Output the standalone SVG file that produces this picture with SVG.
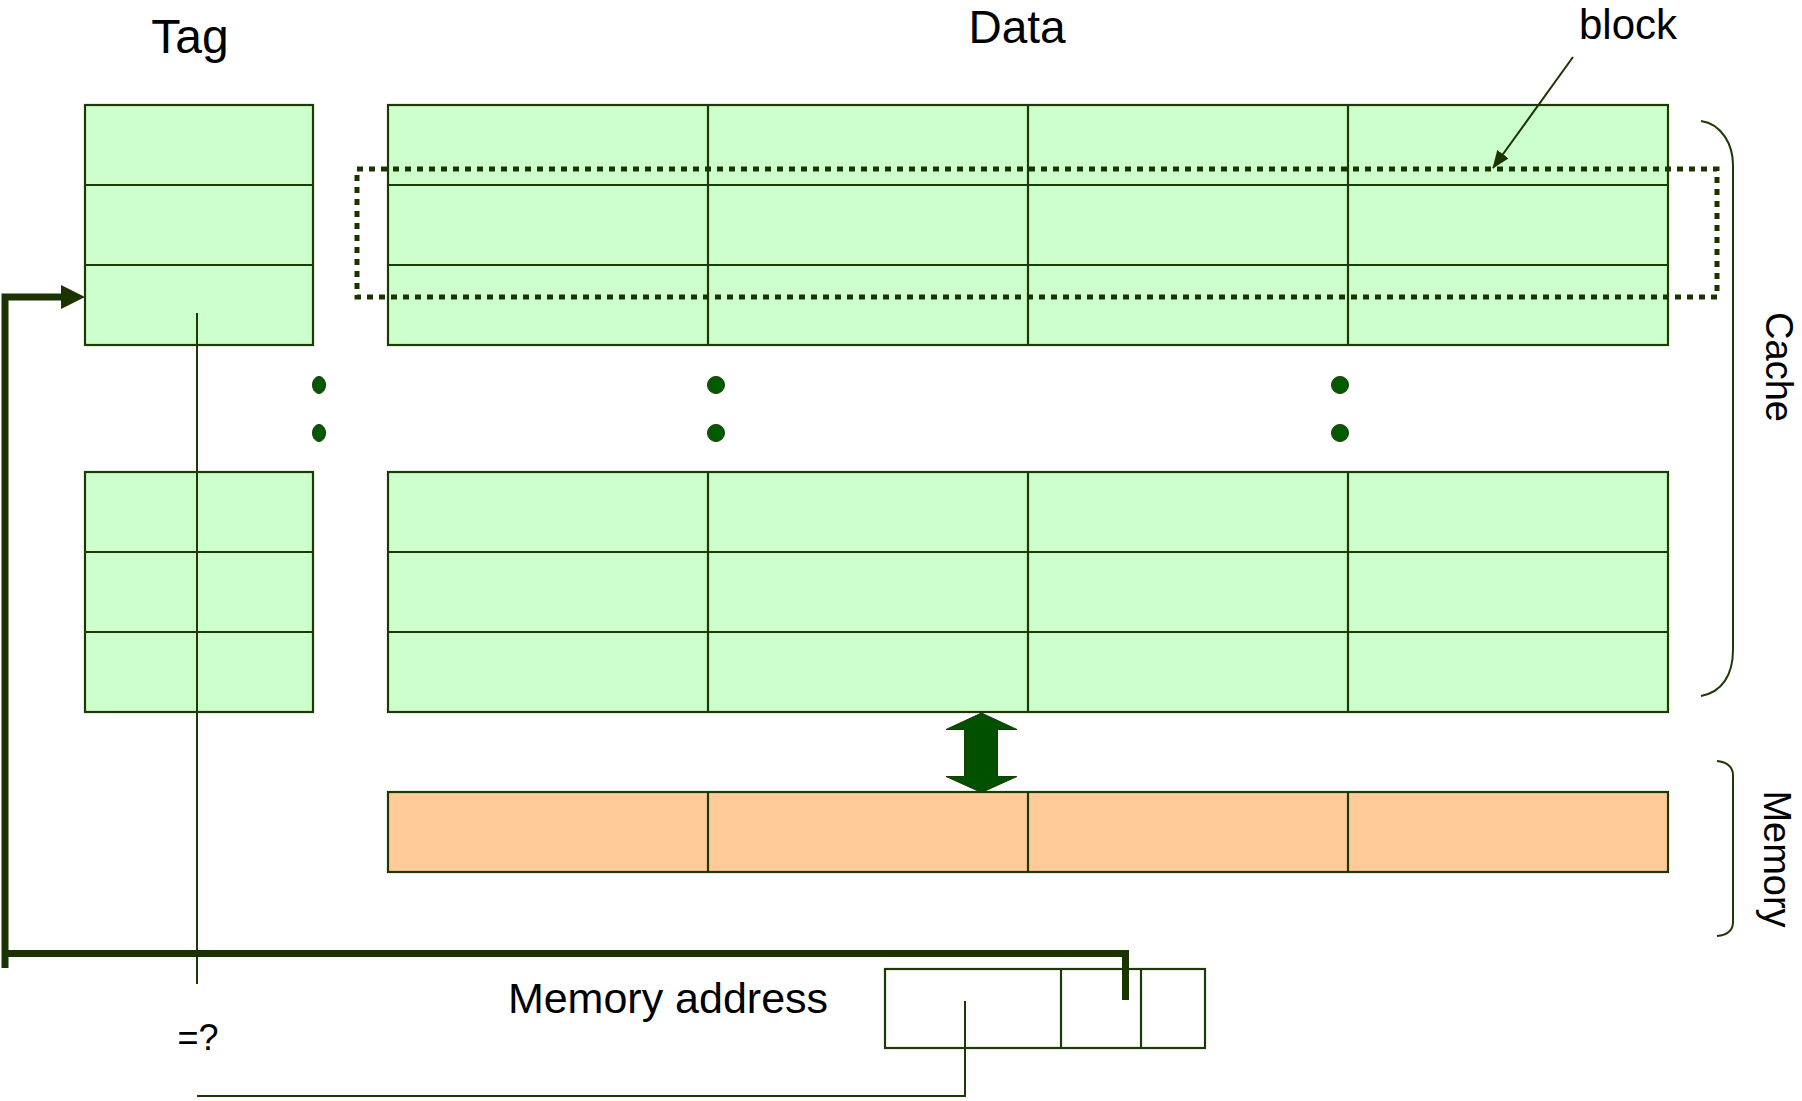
<svg xmlns="http://www.w3.org/2000/svg" width="1802" height="1101" viewBox="0 0 1802 1101">
<style>
.g{fill:#ccffcc;stroke:#1d3a04;stroke-width:2.2}
.o{fill:#ffcc99;stroke:#1d3a04;stroke-width:2.2}
.ln{stroke:#1d3a04;stroke-width:2.2;fill:none}
.thick{stroke:#1a3300;stroke-width:7;fill:none}
.thin{stroke:#1d3a04;stroke-width:2;fill:none}
.dash{stroke:#1a3300;stroke-width:5;fill:none;stroke-dasharray:6 6}
.dot{fill:#005a00;stroke:#1d3a04;stroke-width:1}
.t{font-family:"Comic Sans MS","Liberation Sans",sans-serif;fill:#000}
</style>
<defs>
<marker id="ah" markerUnits="userSpaceOnUse" markerWidth="18" markerHeight="14" refX="17" refY="7" orient="auto">
<path d="M0,0 L18,7 L0,14 Z" fill="#1a3300"/>
</marker>
</defs>
<rect width="1802" height="1101" fill="#fff"/>

<g id="label-tag"><text class="t" x="190" y="53" font-size="48" text-anchor="middle">Tag</text></g>
<g id="label-data"><text class="t" x="1017" y="43" font-size="46" text-anchor="middle">Data</text></g>
<g id="label-block"><text class="t" x="1628" y="39" font-size="42" text-anchor="middle">block</text></g>
<g id="label-cache"><text class="t" font-size="38" text-anchor="middle" transform="translate(1766,367) rotate(90)">Cache</text></g>
<g id="label-memory"><text class="t" font-size="38" text-anchor="middle" transform="translate(1764,859) rotate(90)">Memory</text></g>
<g id="label-address"><text class="t" x="668" y="1013" font-size="43" text-anchor="middle">Memory address</text></g>
<g id="label-eq"><text class="t" x="198" y="1050" font-size="36" text-anchor="middle">=?</text></g>

<g id="tag-top">
<rect class="g" x="85" y="105" width="228" height="240"/>
<path class="ln" d="M85,185H313M85,265H313"/>
</g>
<g id="tag-bottom">
<rect class="g" x="85" y="472" width="228" height="240"/>
<path class="ln" d="M85,552H313M85,632H313"/>
</g>
<g id="data-top">
<rect class="g" x="388" y="105" width="1280" height="240"/>
<path class="ln" d="M388,185H1668M388,265H1668M708,105V345M1028,105V345M1348,105V345"/>
</g>
<g id="data-bottom">
<rect class="g" x="388" y="472" width="1280" height="240"/>
<path class="ln" d="M388,552H1668M388,632H1668M708,472V712M1028,472V712M1348,472V712"/>
</g>
<g id="memory">
<rect class="o" x="388" y="792" width="1280" height="80"/>
<path class="ln" d="M708,792V872M1028,792V872M1348,792V872"/>
</g>
<g id="address">
<rect x="885" y="969" width="320" height="79" fill="none" stroke="#1d3a04" stroke-width="2.2"/>
<path class="ln" d="M1061,969V1048M1141,969V1048"/>
</g>
<g id="block-outline">
<rect class="dash" x="357" y="169" width="1360" height="128"/>
</g>
<g id="ellipsis">
<ellipse class="dot" cx="319" cy="385" rx="6.5" ry="8.5"/>
<ellipse class="dot" cx="319" cy="433" rx="6.5" ry="8.5"/>
<circle class="dot" cx="716" cy="385" r="8.5"/>
<circle class="dot" cx="716" cy="433" r="8.5"/>
<circle class="dot" cx="1340" cy="385" r="8.5"/>
<circle class="dot" cx="1340" cy="433" r="8.5"/>
</g>
<g id="braces">
<path class="thin" d="M1701,121 C1722,124 1733,145 1733,165 V650 C1733,675 1722,692 1701,696"/>
<path class="thin" d="M1717,761 C1728,762 1733,768 1733,775 V922 C1733,930 1728,935 1717,936"/>
</g>

<g id="connectors">
<path class="thin" d="M197,313V984"/>
<path class="thin" d="M965,1001V1096H197"/>
<path class="thick" d="M5,968V297H62" stroke-linejoin="miter"/>
<polygon points="61,285 85,297 61,309" fill="#1a3300"/>
<path class="thick" d="M2,953.5H1125.5V1000" stroke-linejoin="miter"/>
<line x1="1573" y1="57" x2="1493" y2="168" stroke="#1a3300" stroke-width="2" marker-end="url(#ah)"/>
<polygon points="981.5,713 1017,729.5 997.5,729.5 997.5,776.5 1017,776.5 981.5,792.5 946,776.5 964.5,776.5 964.5,729.5 946,729.5" fill="#005000" stroke="#1d3a04" stroke-width="1"/>
</g>
</svg>
